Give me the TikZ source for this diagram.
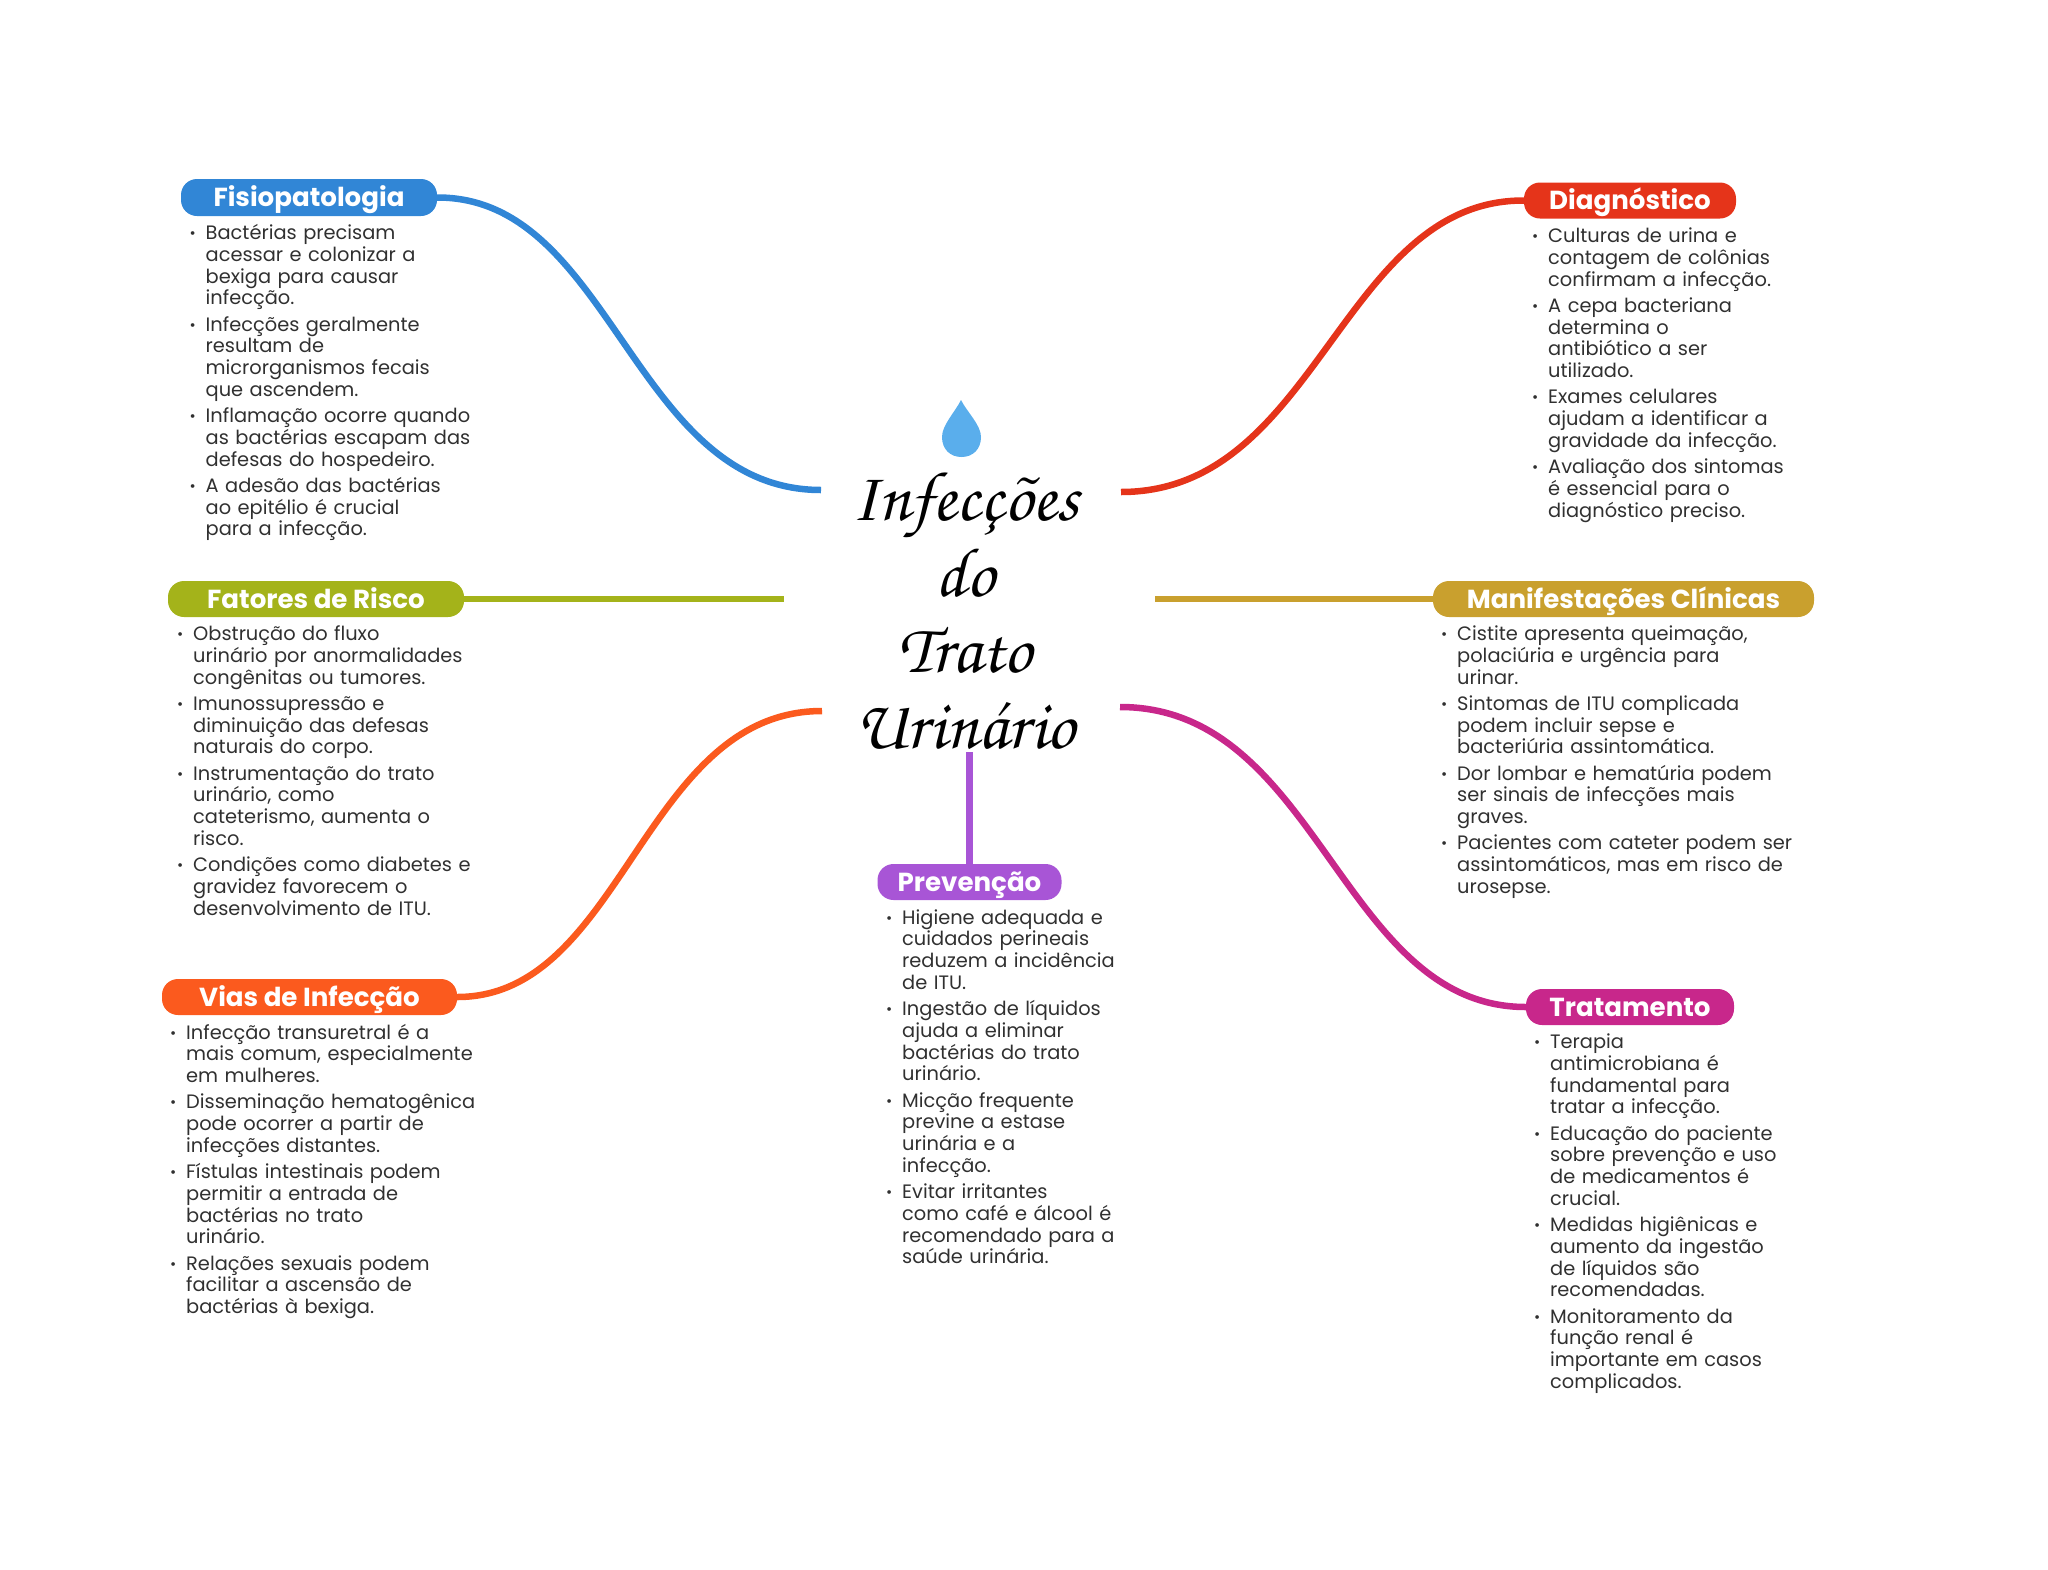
\documentclass[tikz,border=0pt]{standalone}
\usepackage{fontspec}
\setmainfont{Poppins}
\newfontfamily\handfont{TeX Gyre Chorus}
\definecolor{cblue}{HTML}{3186D6}
\definecolor{cred}{HTML}{E5341A}
\definecolor{colive}{HTML}{A4B31A}
\definecolor{cgold}{HTML}{C9A02E}
\definecolor{corange}{HTML}{FB5A1E}
\definecolor{cpurple}{HTML}{A855D6}
\definecolor{cmag}{HTML}{C8278B}
\definecolor{cdrop}{HTML}{5AAEEC}
\definecolor{ctext}{HTML}{303030}
\setlength{\lineskip}{0pt}
\setlength{\normallineskip}{0pt}
\newcommand\bitem[1]{\noindent\makebox[0pt][r]{\raisebox{1pt}{\fontsize{15}{15}\selectfont •}\hspace{10pt}}\parbox[t]{360pt}{\raggedright\lineskiplimit=-100pt\relax\rule{0pt}{18pt}#1\rule[-8pt]{0pt}{0pt}}\par\vspace{0.2pt}}
\tikzset{
  pill/.style={rectangle,rounded corners=16pt,inner sep=0pt,text=white,text height=18.4pt,text depth=0pt,
    font=\fontsize{26.1}{30}\selectfont\bfseries},
  body/.style={anchor=north west,inner sep=0pt,text width=400pt,align=left,text=ctext,
    font=\fontsize{19.4}{21.75}\selectfont},
  conn/.style={line width=6.5pt},
  hubtitle/.style={anchor=north,inner sep=0pt,align=center,text=black,
    font=\fontsize{70}{76}\selectfont\handfont}
}
\begin{document}
\begin{tikzpicture}[x=1pt,y=-1pt]
\useasboundingbox (0,0) rectangle (2048,1569);
% centre
\fill[cdrop] (961,400) .. controls (955,412) and (942,425) .. (942,437)
  .. controls (942,449) and (950,457) .. (961.5,457)
  .. controls (973,457) and (981,449) .. (981,437)
  .. controls (981,425) and (967,412) .. cycle;
\node[hubtitle] (hub) at (965,473) {Infecções\\do\\Trato\\Urinário};
\coordinate (hubA) at (821,490);
\coordinate (hubB) at (1121,492);
\coordinate (hubC) at (784,599);
\coordinate (hubD) at (1155,599);
\coordinate (hubE) at (822,711);
\coordinate (hubF) at (1120,707);
\coordinate (hubG) at (969.5,752);
% pills
\node[pill,fill=cblue,minimum width=256pt,minimum height=37pt] (fisio) at (309,197.5) {Fisiopatologia};
\node[pill,fill=cred,minimum width=212pt,minimum height=36pt] (diag) at (1630,200.5) {Diagnóstico};
\node[pill,fill=colive,minimum width=296pt,minimum height=36pt] (fator) at (316,599) {Fatores de Risco};
\node[pill,fill=cgold,minimum width=381pt,minimum height=36pt] (manif) at (1623.5,599) {Manifestações Clínicas};
\node[pill,fill=corange,minimum width=295pt,minimum height=36pt] (vias) at (309.5,997) {Vias de Infecção};
\node[pill,fill=cpurple,minimum width=184pt,minimum height=36pt] (prev) at (969.5,882) {Prevenção};
\node[pill,fill=cmag,minimum width=208pt,minimum height=36pt] (trat) at (1630,1007) {Tratamento};
% connectors
\draw[conn,cblue] (fisio.east) .. controls (612,197) and (633,490) .. (hubA);
\draw[conn,cred] (diag.west) .. controls (1341,200) and (1318,492) .. (hubB);
\draw[conn,colive] (fator.east) -- (hubC);
\draw[conn,cgold] (manif.west) -- (hubD);
\draw[conn,corange] (vias.east) .. controls (623,997) and (643,711) .. (hubE);
\draw[conn,cmag] (trat.west) .. controls (1341,1007) and (1319,707) .. (hubF);
\draw[conn,cpurple] (prev.north) -- (hubG);
% bodies
\node[body] (tfisio) at (205.5,221.5) {%
\bitem{Bactérias precisam\\acessar e colonizar a\\bexiga para causar\\infecção.}
\bitem{Infecções geralmente\\resultam de\\microrganismos fecais\\que ascendem.}
\bitem{Inflamação ocorre quando\\as bactérias escapam das\\defesas do hospedeiro.}
\bitem{A adesão das bactérias\\ao epitélio é crucial\\para a infecção.}};
\node[body] (tdiag) at (1548,224.5) {%
\bitem{Culturas de urina e\\contagem de colônias\\confirmam a infecção.}
\bitem{A cepa bacteriana\\determina o\\antibiótico a ser\\utilizado.}
\bitem{Exames celulares\\ajudam a identificar a\\gravidade da infecção.}
\bitem{Avaliação dos sintomas\\é essencial para o\\diagnóstico preciso.}};
\node[body] (tfator) at (193,622.5) {%
\bitem{Obstrução do fluxo\\urinário por anormalidades\\congênitas ou tumores.}
\bitem{Imunossupressão e\\diminuição das defesas\\naturais do corpo.}
\bitem{Instrumentação do trato\\urinário, como\\cateterismo, aumenta o\\risco.}
\bitem{Condições como diabetes e\\gravidez favorecem o\\desenvolvimento de ITU.}};
\node[body] (tmanif) at (1457,622.5) {%
\bitem{Cistite apresenta queimação,\\polaciúria e urgência para\\urinar.}
\bitem{Sintomas de ITU complicada\\podem incluir sepse e\\bacteriúria assintomática.}
\bitem{Dor lombar e hematúria podem\\ser sinais de infecções mais\\graves.}
\bitem{Pacientes com cateter podem ser\\assintomáticos, mas em risco de\\urosepse.}};
\node[body] (tvias) at (186,1021) {%
\bitem{Infecção transuretral é a\\mais comum, especialmente\\em mulheres.}
\bitem{Disseminação hematogênica\\pode ocorrer a partir de\\infecções distantes.}
\bitem{Fístulas intestinais podem\\permitir a entrada de\\bactérias no trato\\urinário.}
\bitem{Relações sexuais podem\\facilitar a ascensão de\\bactérias à bexiga.}};
\node[body] (tprev) at (902,906) {%
\bitem{Higiene adequada e\\cuidados perineais\\reduzem a incidência\\de ITU.}
\bitem{Ingestão de líquidos\\ajuda a eliminar\\bactérias do trato\\urinário.}
\bitem{Micção frequente\\previne a estase\\urinária e a\\infecção.}
\bitem{Evitar irritantes\\como café e álcool é\\recomendado para a\\saúde urinária.}};
\node[body] (ttrat) at (1550,1030.5) {%
\bitem{Terapia\\antimicrobiana é\\fundamental para\\tratar a infecção.}
\bitem{Educação do paciente\\sobre prevenção e uso\\de medicamentos é\\crucial.}
\bitem{Medidas higiênicas e\\aumento da ingestão\\de líquidos são\\recomendadas.}
\bitem{Monitoramento da\\função renal é\\importante em casos\\complicados.}};
\end{tikzpicture}
\end{document}
